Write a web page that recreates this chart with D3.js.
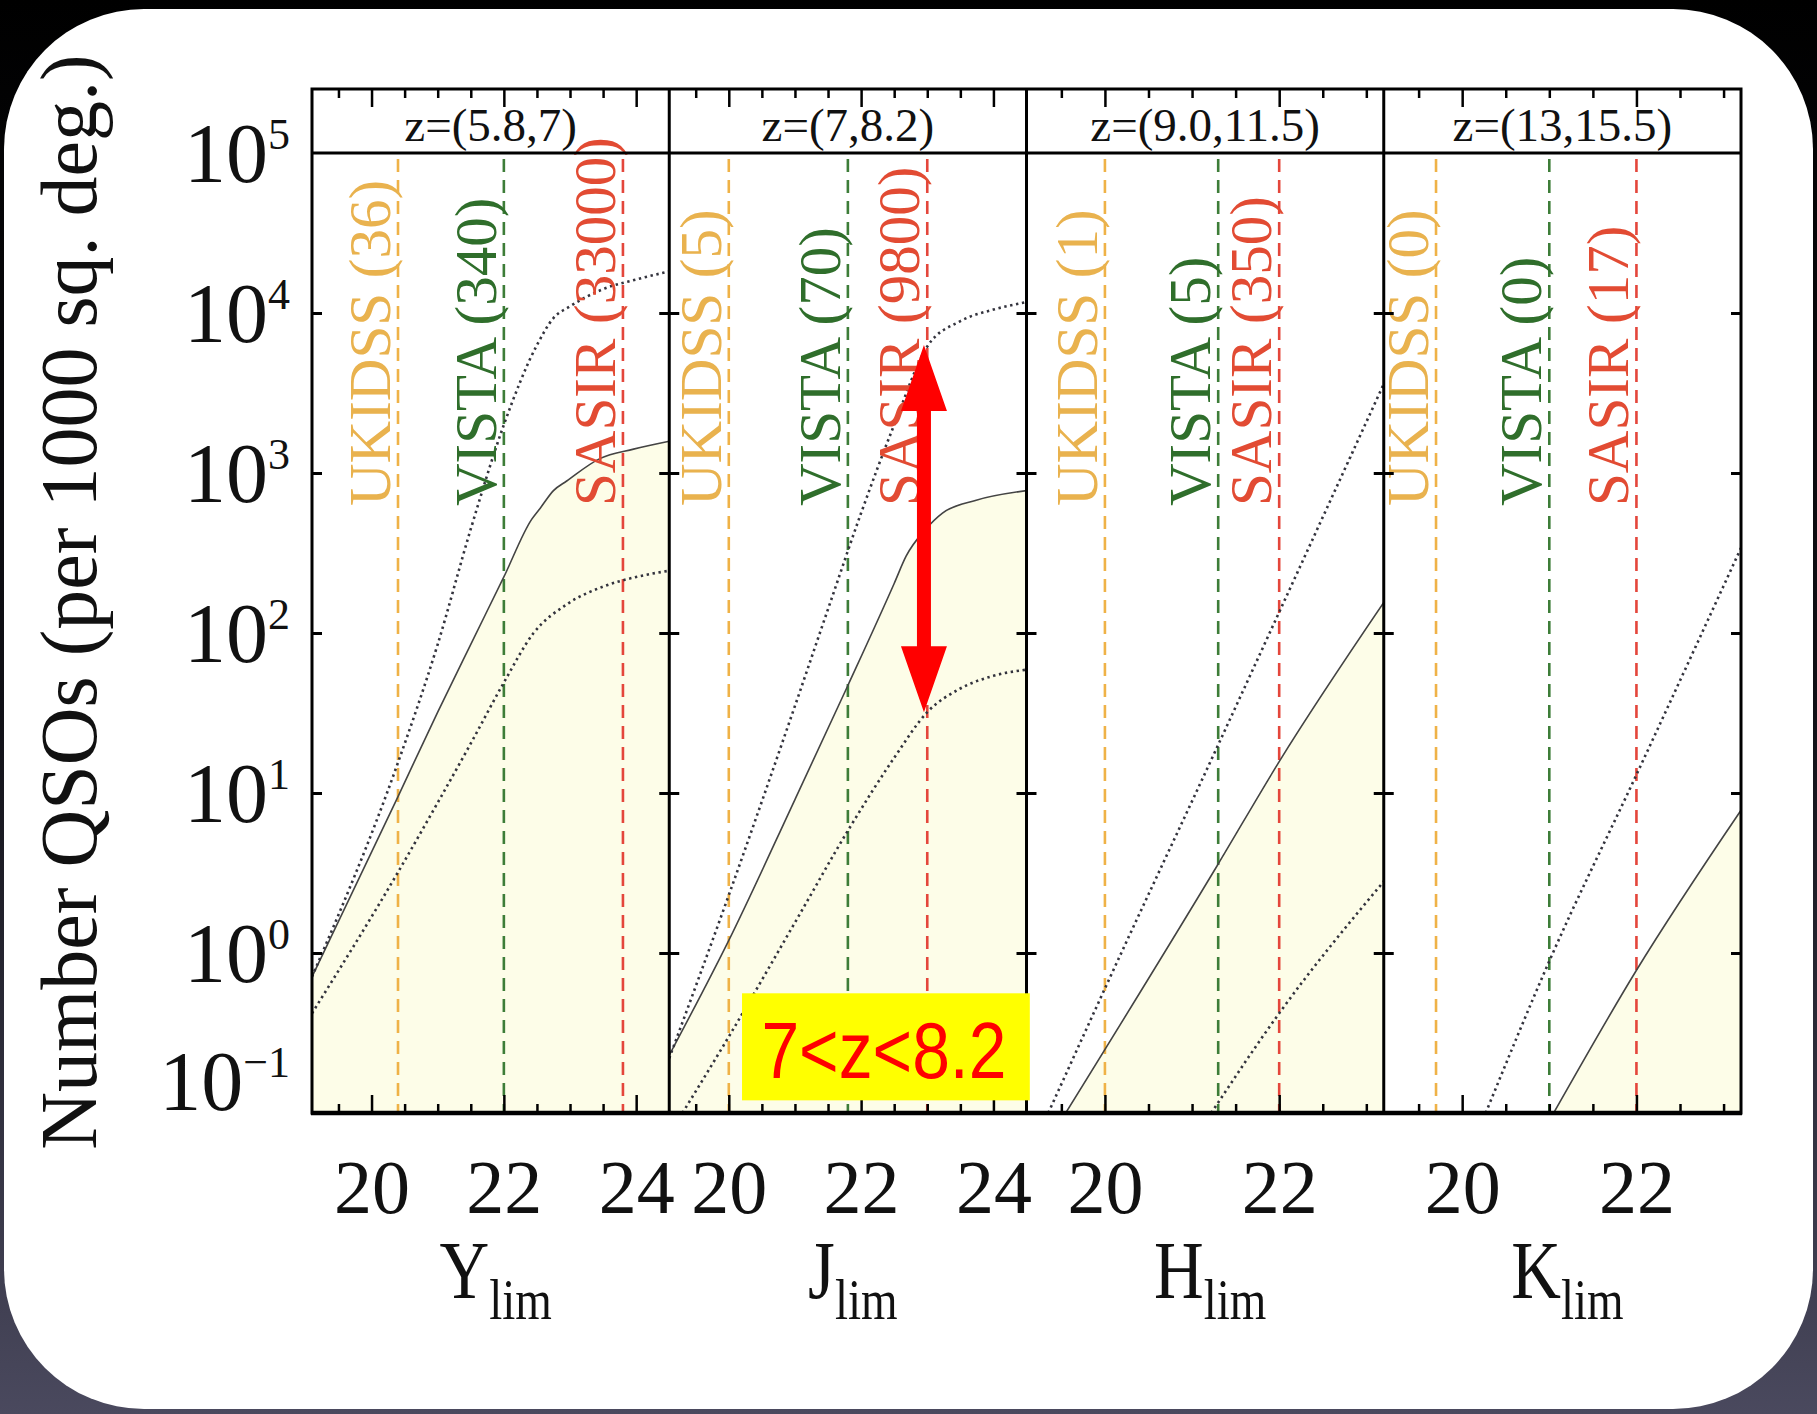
<!DOCTYPE html>
<html><head><meta charset="utf-8">
<script src="https://cdn.jsdelivr.net/npm/d3@7"></script>
<style>body{margin:0;background:#000}svg{display:block}</style>
</head><body><svg id="c" width="1817" height="1414"></svg>
<script>
// ---------------- data ----------------
const panelTitles = ["z=(5.8,7)", "z=(7,8.2)", "z=(9.0,11.5)", "z=(13,15.5)"];
const bandNames = ["Y", "J", "H", "K"];
const magDomains = [[19.1, 24.5], [19.1, 24.5], [19.1, 23.2], [19.1, 23.2]];
const majorTicks = [[20, 22, 24], [20, 22, 24], [20, 22], [20, 22]];
const yTickExps = [-1, 0, 1, 2, 3, 4, 5];

const surveyNames = ["UKIDSS", "VISTA", "SASIR"];
const surveyLimits = [[20.4, 22.0, 23.8], [20.0, 21.8, 23.0], [20.0, 21.3, 22.0], [19.7, 21.0, 22.0]];
const surveyCounts = [["36", "340", "33000"], ["5", "70", "9800"], ["1", "5", "350"], ["0", "0", "17"]];

// number of QSOs vs limiting magnitude: [mag, N]
const solidY = [[19.1,0.71],[20.4,9.5],[21.0,32],[21.5,85],[22.0,224],[22.42,513],[22.55,603],[22.75,776],[22.95,891],[23.45,1230],[23.96,1410],[24.5,1580]];
const upperY = [[19.1,0.71],[20.4,15.5],[21.0,85],[21.5,447],[22.0,2000],[22.5,6300],[22.75,9300],[23.0,11000],[23.5,14100],[24.0,16200],[24.5,18200]];
const lowerY = [[19.1,0.42],[20.4,3.2],[21.0,8.7],[21.5,20.4],[22.0,49],[22.45,100],[22.95,151],[23.5,195],[24.0,224],[24.5,245]];

const solidJ = [[19.1,0.23],[20.0,1.2],[21.0,9.1],[21.8,47],[22.5,204],[22.68,302],[22.98,447],[23.23,562],[23.74,676],[24.5,776]];
const upperJ = [[19.1,0.22],[20.0,2.3],[21.0,35],[21.5,141],[22.0,562],[22.5,2000],[23.0,6170],[23.5,8900],[24.0,10500],[24.5,11700]];
const lowerJ = [[19.3,0.1],[20.0,0.3],[21.0,1.55],[21.82,6.0],[22.5,16.6],[23.0,32],[23.5,45],[24.0,54],[24.5,59]];

const solidH = [[19.55,0.1],[21.3,3.6],[22.0,15.7],[23.2,155]];
const upperH = [[19.35,0.1],[20.0,0.6],[21.3,20],[22.0,135],[23.2,3600]];
const lowerH = [[21.22,0.1],[22.0,0.42],[23.2,2.8]];

const solidK = [[21.05,0.1],[22.0,0.78],[23.2,7.8]];
const upperK = [[20.27,0.1],[21.0,0.89],[22.0,13],[23.2,340]];
const lowerK = [];

const solidCurves = [solidY, solidJ, solidH, solidK];
const upperCurves = [upperY, upperJ, upperH, upperK];
const lowerCurves = [lowerY, lowerJ, lowerH, lowerK];

// annotation (J panel)
const arrowMag = 22.95, arrowTop = 6300, arrowBottom = 32;
const boxText = "7<z<8.2";
const boxMag = [20.2, 24.55], boxN = [0.56, 0.12];

// ---------------- layout / style ----------------
const W = 1817, H = 1414;
const X0 = 312, X1 = 1741, PW = (X1 - X0) / 4, TOP = 89, YT = 153, YB = 1113;
const serif = "'Liberation Serif','Times New Roman',serif";
const lineColors = ["#efb247", "#3d7d38", "#e4463b"];
const textColors = ["#e9b24e", "#2f6e2b", "#e24b33"];
const fillColor = "#fdfde8";

const svg = d3.select("#c");
const defs = svg.append("defs");
const grad = defs.append("linearGradient").attr("id", "bg").attr("x1", 0).attr("y1", 0).attr("x2", 0).attr("y2", 1);
grad.append("stop").attr("offset", "0%").attr("stop-color", "#000");
grad.append("stop").attr("offset", "50%").attr("stop-color", "#101016");
grad.append("stop").attr("offset", "100%").attr("stop-color", "#4a495e");
svg.append("rect").attr("width", W).attr("height", H).attr("fill", "url(#bg)");
svg.append("rect").attr("x", 4).attr("y", 9).attr("width", 1809).attr("height", 1400).attr("rx", 140).attr("fill", "#fff");

const y = d3.scaleLog().domain([0.1, 1e5]).range([YB, YT]);

panelTitles.forEach((title, i) => {
  const px0 = X0 + i * PW, px1 = px0 + PW;
  const x = d3.scaleLinear().domain(magDomains[i]).range([px0, px1]);
  const g = svg.append("g");
  const clipId = "clip" + i;
  defs.append("clipPath").attr("id", clipId).append("rect")
    .attr("x", px0).attr("y", YT).attr("width", PW).attr("height", YB - YT);
  const pg = g.append("g").attr("clip-path", `url(#${clipId})`);

  // fill under solid curve
  const area = d3.area().x(d => x(d[0])).y0(YB).y1(d => y(d[1])).curve(d3.curveMonotoneX);
  pg.append("path").datum(solidCurves[i]).attr("d", area).attr("fill", fillColor);

  // survey limits
  surveyLimits[i].forEach((m, k) => {
    pg.append("line").attr("x1", x(m)).attr("x2", x(m)).attr("y1", YT + 6).attr("y2", YB)
      .attr("stroke", lineColors[k]).attr("stroke-width", 2.6).attr("stroke-dasharray", "13,8");
    g.append("text")
      .attr("transform", `translate(${x(m) - 8},506) rotate(-90)`)
      .attr("font-family", serif).attr("font-size", 59).attr("fill", textColors[k])
      .text(`${surveyNames[k]} (${surveyCounts[i][k]})`);
  });

  // curves
  const line = d3.line().x(d => x(d[0])).y(d => y(d[1])).curve(d3.curveMonotoneX);
  pg.append("path").datum(solidCurves[i]).attr("d", line).attr("fill", "none")
    .attr("stroke", "#444").attr("stroke-width", 1.6);
  [upperCurves[i], lowerCurves[i]].forEach(c => {
    if (!c.length) return;
    pg.append("path").datum(c).attr("d", line).attr("fill", "none")
      .attr("stroke", "#33333d").attr("stroke-width", 2.6).attr("stroke-dasharray", "2.4,3.6");
  });

  // x ticks bottom (inward) and top
  const minor = d3.range(19.5, magDomains[i][1], 0.5).filter(v => !majorTicks[i].includes(v));
  const axB = g.append("g").attr("transform", `translate(0,${YB})`)
    .call(d3.axisBottom(x).tickValues(majorTicks[i]).tickFormat(d3.format("d"))
      .tickSizeInner(-18).tickSizeOuter(0).tickPadding(0));
  axB.select(".domain").remove();
  axB.selectAll("line").attr("stroke", "#000").attr("stroke-width", 2.5);
  axB.selectAll("text").attr("y", 100).attr("dy", 0).attr("font-family", serif)
    .attr("font-size", 76).attr("fill", "#111");
  const axBm = g.append("g").attr("transform", `translate(0,${YB})`)
    .call(d3.axisBottom(x).tickValues(minor).tickSizeInner(-9).tickSizeOuter(0).tickFormat(""));
  axBm.select(".domain").remove();
  axBm.selectAll("line").attr("stroke", "#000").attr("stroke-width", 2.5);

  const axT = g.append("g").attr("transform", `translate(0,${TOP})`)
    .call(d3.axisTop(x).tickValues(majorTicks[i]).tickSizeInner(-18).tickSizeOuter(0).tickFormat(""));
  axT.select(".domain").remove();
  axT.selectAll("line").attr("stroke", "#000").attr("stroke-width", 2.5);
  const axTm = g.append("g").attr("transform", `translate(0,${TOP})`)
    .call(d3.axisTop(x).tickValues(minor).tickSizeInner(-9).tickSizeOuter(0).tickFormat(""));
  axTm.select(".domain").remove();
  axTm.selectAll("line").attr("stroke", "#000").attr("stroke-width", 2.5);

  // y ticks, inward on both sides
  const yv = yTickExps.slice(1, -1).map(e => Math.pow(10, e));
  const axL = g.append("g").attr("transform", `translate(${px0},0)`)
    .call(d3.axisLeft(y).tickValues(yv).tickSizeInner(-10).tickSizeOuter(0).tickFormat(""));
  axL.select(".domain").remove();
  axL.selectAll("line").attr("stroke", "#000").attr("stroke-width", 3);
  const axR = g.append("g").attr("transform", `translate(${px1},0)`)
    .call(d3.axisRight(y).tickValues(yv).tickSizeInner(-10).tickSizeOuter(0).tickFormat(""));
  axR.select(".domain").remove();
  axR.selectAll("line").attr("stroke", "#000").attr("stroke-width", 3);

  // header title
  g.append("text").attr("x", (px0 + px1) / 2).attr("y", 141).attr("text-anchor", "middle")
    .attr("font-family", serif).attr("font-size", 47).attr("fill", "#111").text(title);

  // x-axis band label
  const cx = (px0 + px1) / 2 + 5;
  const lab = g.append("text").attr("transform", `translate(${cx},1298) scale(0.84,1)`)
    .attr("text-anchor", "middle").attr("font-family", serif).attr("fill", "#111");
  lab.append("tspan").attr("font-size", 82).text(bandNames[i]);
  lab.append("tspan").attr("font-size", 56).attr("dy", 21).text("lim");
});

// frame
const fr = svg.append("g").attr("fill", "none").attr("stroke", "#000");
fr.append("rect").attr("x", X0).attr("y", TOP).attr("width", X1 - X0).attr("height", YB - TOP).attr("stroke-width", 3);
fr.append("line").attr("x1", X0).attr("x2", X1).attr("y1", YT).attr("y2", YT).attr("stroke-width", 3);
fr.append("line").attr("x1", X0 - 1).attr("x2", X1 + 1).attr("y1", YB).attr("y2", YB).attr("stroke-width", 4.5);
for (let i = 1; i < 4; i++) {
  fr.append("line").attr("x1", X0 + i * PW).attr("x2", X0 + i * PW).attr("y1", TOP).attr("y2", YB).attr("stroke-width", 3);
}

// y tick labels
yTickExps.forEach(e => {
  const t = svg.append("text").attr("x", 290).attr("y", y(Math.pow(10, e)) + (e === -1 ? -3 : 29))
    .attr("text-anchor", "end").attr("font-family", serif).attr("fill", "#111");
  t.append("tspan").attr("font-size", 84).text("10");
  t.append("tspan").attr("font-size", 44).attr("dy", -33).text(e < 0 ? "\u2212" + (-e) : String(e));
});

// y title
svg.append("text").attr("transform", "translate(96,602) rotate(-90)").attr("text-anchor", "middle")
  .attr("font-family", serif).attr("font-size", 80).attr("fill", "#111")
  .text("Number QSOs (per 1000 sq. deg.)");

// annotations on J panel
const xJ = d3.scaleLinear().domain(magDomains[1]).range([X0 + PW, X0 + 2 * PW]);
const ax = xJ(arrowMag), yTop = y(arrowTop), yBot = y(arrowBottom);
const hl = 66, hw = 23, sw = 7;
const arrowPath = [
  [ax, yTop], [ax + hw, yTop + hl], [ax + sw, yTop + hl], [ax + sw, yBot - hl], [ax + hw, yBot - hl],
  [ax, yBot], [ax - hw, yBot - hl], [ax - sw, yBot - hl], [ax - sw, yTop + hl], [ax - hw, yTop + hl]
];
svg.append("path").attr("d", d3.line()(arrowPath) + "Z").attr("fill", "#ff0000");

const bx0 = xJ(boxMag[0]), bx1 = xJ(boxMag[1]), by0 = y(boxN[0]), by1 = y(boxN[1]);
svg.append("rect").attr("x", bx0).attr("y", by0).attr("width", bx1 - bx0).attr("height", by1 - by0).attr("fill", "#ffff00");
svg.append("text").attr("x", (bx0 + bx1) / 2 - 2).attr("y", by0 + 85).attr("text-anchor", "middle")
  .attr("font-family", "'Liberation Sans',Arial,sans-serif").attr("font-size", 80)
  .attr("textLength", 245).attr("lengthAdjust", "spacingAndGlyphs")
  .attr("fill", "#ff0000").text(boxText);
</script>
</body></html>
